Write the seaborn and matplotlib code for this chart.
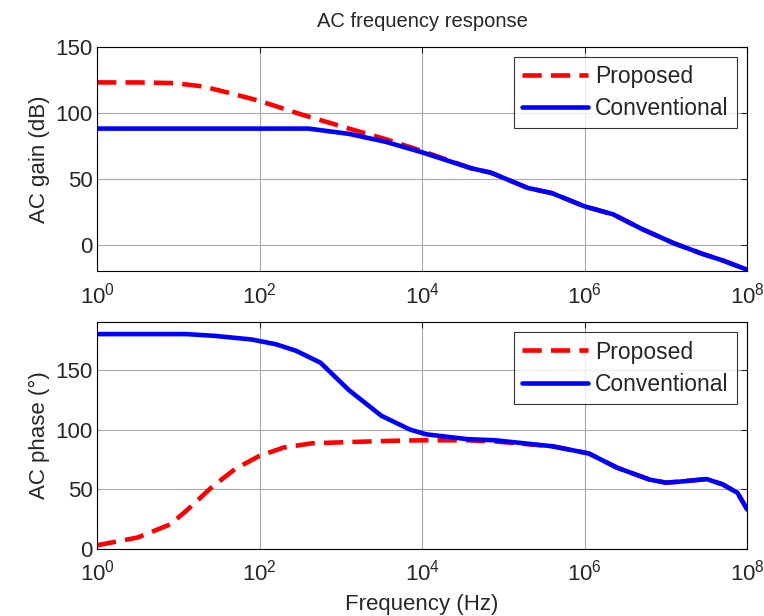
import matplotlib
matplotlib.use("Agg")
import matplotlib.pyplot as plt
import matplotlib.ticker as mticker
import numpy as np
import pandas as pd
import seaborn as sns

# frequency points as decades (log10 Hz)
gain_prop_dec = [0, 0.5, 0.95, 1.3, 1.63, 2.0, 2.5, 3.1, 3.55, 4.0, 4.6, 4.85, 5.3, 5.6, 6.0, 6.35, 6.7, 7.1, 7.45, 7.7, 8.0]
gain_prop = [123, 123, 122.5, 120, 115, 109, 99, 88, 80, 71, 58, 54.5, 43, 39, 29, 23, 12, 1, -7, -12, -19]
gain_conv_dec = [0, 1.0, 2.0, 2.6, 3.1, 3.55, 4.0, 4.6, 4.85, 5.3, 5.6, 6.0, 6.35, 6.7, 7.1, 7.45, 7.7, 8.0]
gain_conv = [88, 88, 88, 88, 84, 78, 70, 58, 54.5, 43, 39, 29, 23, 12, 1, -7, -12, -19]

phase_prop_dec = [0, 0.5, 0.9, 1.1, 1.4, 1.7, 2.0, 2.3, 2.65, 3.1, 3.6, 4.0, 4.3, 4.55, 4.9, 5.6, 6.05, 6.4, 6.8, 7.0, 7.2, 7.5, 7.7, 7.88, 8.0]
phase_prop = [3, 9.5, 20.5, 32, 51, 67, 78, 85, 88.5, 89.5, 90.5, 91, 91, 91, 90, 86, 80, 68, 58, 55.5, 56.5, 58.5, 54, 47, 33]
phase_conv_dec = [0, 0.5, 1.1, 1.45, 1.9, 2.2, 2.45, 2.75, 3.1, 3.5, 3.85, 4.05, 4.55, 4.9, 5.6, 6.05, 6.4, 6.8, 7.0, 7.2, 7.5, 7.7, 7.88, 8.0]
phase_conv = [180, 180, 180, 178.5, 175.5, 171.5, 166, 156, 133, 111.5, 100, 96, 92, 91, 86, 80, 68, 58, 55.5, 56.5, 58.5, 54, 47, 33]

xtick_vals = [1, 1e2, 1e4, 1e6, 1e8]


def make_df(p_dec, p_val, c_dec, c_val):
    d1 = pd.DataFrame({"f": np.power(10.0, p_dec), "v": p_val, "s": "Proposed"})
    d2 = pd.DataFrame({"f": np.power(10.0, c_dec), "v": c_val, "s": "Conventional"})
    return pd.concat([d1, d2], ignore_index=True)


sns.set_style("white")
plt.rcParams['font.family'] = ['Liberation Sans', 'DejaVu Sans']
plt.rcParams['mathtext.default'] = 'regular'
plt.rcParams['font.size'] = 15

fig = plt.figure(figsize=(7.64, 6.16), dpi=100)
ax1 = fig.add_axes([0.127, 0.560, 0.851, 0.364])
ax2 = fig.add_axes([0.127, 0.109, 0.851, 0.368])

palette = {"Proposed": "#ff0000", "Conventional": "#0000ff"}
dashes = {"Proposed": (4.2, 2.0), "Conventional": ""}

for ax, df, ylim, yticks, ylabel in [
    (ax1, make_df(gain_prop_dec, gain_prop, gain_conv_dec, gain_conv), (-20, 150), [0, 50, 100, 150], "AC gain (dB)"),
    (ax2, make_df(phase_prop_dec, phase_prop, phase_conv_dec, phase_conv), (0, 190), [0, 50, 100, 150], "AC phase (\u00b0)"),
]:
    sns.lineplot(data=df, x="f", y="v", hue="s", style="s", palette=palette,
                 dashes=dashes, linewidth=3.3, ax=ax, sort=False)
    ax.set_xscale("log")
    ax.set_xlim(1, 1e8)
    ax.set_ylim(*ylim)
    ax.set_xticks(xtick_vals)
    ax.xaxis.set_major_formatter(mticker.LogFormatterMathtext())
    ax.xaxis.set_minor_locator(mticker.NullLocator())
    ax.set_yticks(yticks)
    ax.grid(True, color="#a8a8a8", linewidth=0.8)
    ax.tick_params(direction="in", top=True, right=True, length=4, labelsize=16, pad=3)
    ax.tick_params(axis="x", pad=8)
    ax.set_ylabel(ylabel, fontsize=16)
    ax.set_xlabel("")
    for sp in ax.spines.values():
        sp.set_color("black")
        sp.set_linewidth(0.8)
    leg = ax.legend(loc="upper right", fontsize=16.5, frameon=True, fancybox=False,
                    edgecolor="black", handlelength=2.9, borderpad=0.35,
                    labelspacing=0.4, handletextpad=0.3, borderaxespad=0.45)
    leg.get_frame().set_linewidth(0.8)

ax1.set_title("AC frequency response", fontsize=14.5, pad=14)
ax2.set_xlabel("Frequency (Hz)", fontsize=16, labelpad=6)

fig.savefig("out.png", dpi=100)
